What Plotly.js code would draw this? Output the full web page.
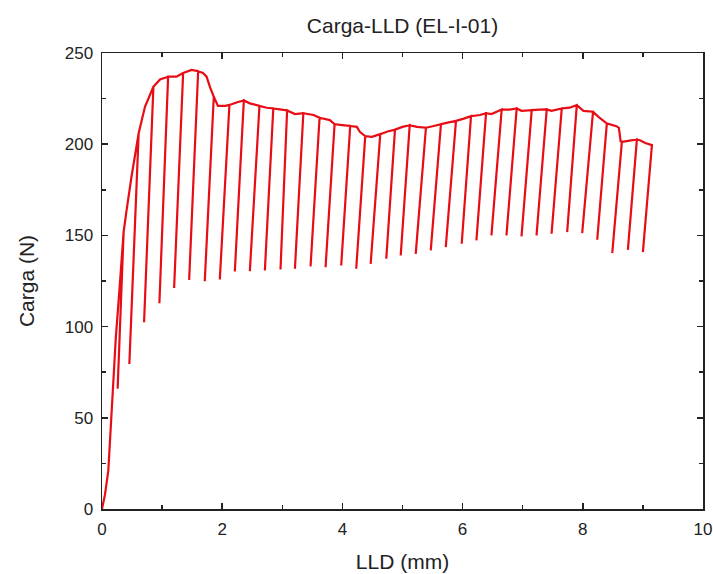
<!DOCTYPE html>
<html>
<head>
<meta charset="utf-8">
<script src="https://cdn.plot.ly/plotly-3.0.1.min.js"></script>
<style>html,body{margin:0;padding:0;background:#fff;}#chart{width:713px;height:574px;}</style>
</head>
<body>
<div id="chart"></div>
<script>
// LLD (mm) and Carga (N), in path order
// (envelope points, each unloading bottom, and the return to the cycle top)
const lld = [
  0, 0.02, 0.05, 0.105, 0.145, 0.19, 0.23, 0.29, 0.33, 0.36, 0.26, 0.36,
  0.41, 0.49, 0.61, 0.455, 0.61,
  0.715, 0.855, 0.70, 0.855,
  0.965, 1.10, 0.955, 1.10,
  1.24, 1.35, 1.20, 1.35,
  1.49, 1.60, 1.45, 1.60,
  1.68, 1.74, 1.80, 1.86, 1.71, 1.86,
  1.93, 2.05, 2.12, 1.96, 2.12,
  2.25, 2.36, 2.21, 2.36,
  2.46, 2.62, 2.46, 2.62,
  2.74, 2.85, 2.71, 2.85,
  2.96, 3.08, 2.97, 3.08,
  3.21, 3.35, 3.21, 3.35,
  3.52, 3.62, 3.47, 3.62,
  3.79, 3.87, 3.72, 3.87,
  4.00, 4.13, 3.98, 4.13,
  4.24, 4.29, 4.38, 4.23, 4.38,
  4.49, 4.63, 4.47, 4.63,
  4.75, 4.875, 4.73, 4.875,
  5.00, 5.12, 4.97, 5.12,
  5.24, 5.39, 5.22, 5.39,
  5.52, 5.64, 5.47, 5.64,
  5.77, 5.89, 5.72, 5.89,
  6.02, 6.14, 5.985, 6.14,
  6.29, 6.39, 6.23, 6.39,
  6.48, 6.65, 6.48, 6.65,
  6.78, 6.90, 6.73, 6.90,
  6.98, 7.15, 6.98, 7.15,
  7.28, 7.40, 7.23, 7.40,
  7.48, 7.65, 7.48, 7.65,
  7.78, 7.90, 7.74, 7.90,
  8.01, 8.17, 7.99, 8.17,
  8.26, 8.40, 8.24, 8.40,
  8.56, 8.60, 8.63, 8.65, 8.49, 8.65,
  8.78, 8.90, 8.75, 8.90,
  8.95, 9.04, 9.15, 9.00
];
const carga = [
  0, 3, 8, 21, 43, 70, 94, 120, 138, 152, 66, 152,
  164, 182, 206, 79.5, 206,
  220.5, 231.5, 102.4, 231.5,
  235.5, 237, 112.8, 237,
  237, 239, 121.2, 239,
  240.7, 240, 125.6, 240,
  239, 237, 231, 226, 124.9, 226,
  221, 221, 221.5, 125.8, 221.5,
  223, 224, 130.2, 224,
  222.4, 221, 130.4, 221,
  220, 219.6, 130.8, 219.6,
  219.1, 218.5, 131.3, 218.5,
  216.5, 217, 131.7, 217,
  216, 214.5, 133, 214.5,
  213.2, 211, 132.6, 211,
  210.5, 210, 133.5, 210,
  209.5, 206.8, 204.4, 131.7, 204.4,
  204, 205.5, 134.4, 205.5,
  207, 208, 137.2, 208,
  209.5, 210.4, 139, 210.4,
  209.5, 209, 139.9, 209,
  210, 211, 141.8, 211,
  212, 212.8, 143.6, 212.8,
  214, 215.4, 145.4, 215.4,
  216, 217, 147.3, 217,
  216.5, 219, 150, 219,
  219, 219.6, 150, 219.6,
  218.3, 218.7, 149.5, 218.7,
  219, 219.1, 150, 219.1,
  218.3, 219.6, 150.9, 219.6,
  220, 221.4, 151.8, 221.4,
  218.3, 217.8, 151.3, 217.8,
  215, 211.4, 147.6, 211.4,
  209.9, 209, 201.5, 201.3, 140.3, 201.3,
  202, 202.6, 142.1, 202.6,
  202.2, 200.7, 199.5, 140.8
];
const xTicks = [0, 2, 4, 6, 8, 10];
const yTicks = [0, 50, 100, 150, 200, 250];

const font = "Liberation Sans, Arial, sans-serif";
const axisCommon = {
  showline: true, linecolor: "#222", linewidth: 1.5, mirror: "ticks",
  ticks: "inside", ticklen: 6, tickwidth: 1.5, tickcolor: "#222",
  showgrid: false, zeroline: false,
  tickfont: {family: font, size: 17, color: "#222"},
  ticklabelstandoff: 4
};

Plotly.newPlot("chart", [{
  x: lld, y: carga, type: "scatter", mode: "lines",
  line: {color: "rgb(232,12,20)", width: 2.2},
  hoverinfo: "skip", showlegend: false
}], {
  width: 713, height: 574,
  margin: {l: 102, r: 10, t: 53, b: 65},
  paper_bgcolor: "#fff", plot_bgcolor: "#fff",
  title: {text: "Carga-LLD (EL-I-01)", font: {family: font, size: 21, color: "#222"},
          x: 0.5, xref: "paper", y: 0.956, yref: "container", yanchor: "middle"},
  xaxis: Object.assign({}, axisCommon, {
    range: [0, 10], tickvals: xTicks, ticktext: xTicks.map(String),
    minor: {tickvals: [1, 3, 5, 7, 9], ticks: "inside", ticklen: 4, tickwidth: 1.5, tickcolor: "#222"},
    title: {text: "LLD (mm)", font: {family: font, size: 21, color: "#222"}, standoff: 16}
  }),
  yaxis: Object.assign({}, axisCommon, {
    range: [0, 250], tickvals: yTicks, ticktext: yTicks.map(String),
    minor: {tickvals: [25, 75, 125, 175, 225], ticks: "inside", ticklen: 4, tickwidth: 1.5, tickcolor: "#222"},
    title: {text: "Carga (N)", font: {family: font, size: 21, color: "#222"}, standoff: 24}
  })
}, {staticPlot: true});
</script>
</body>
</html>
